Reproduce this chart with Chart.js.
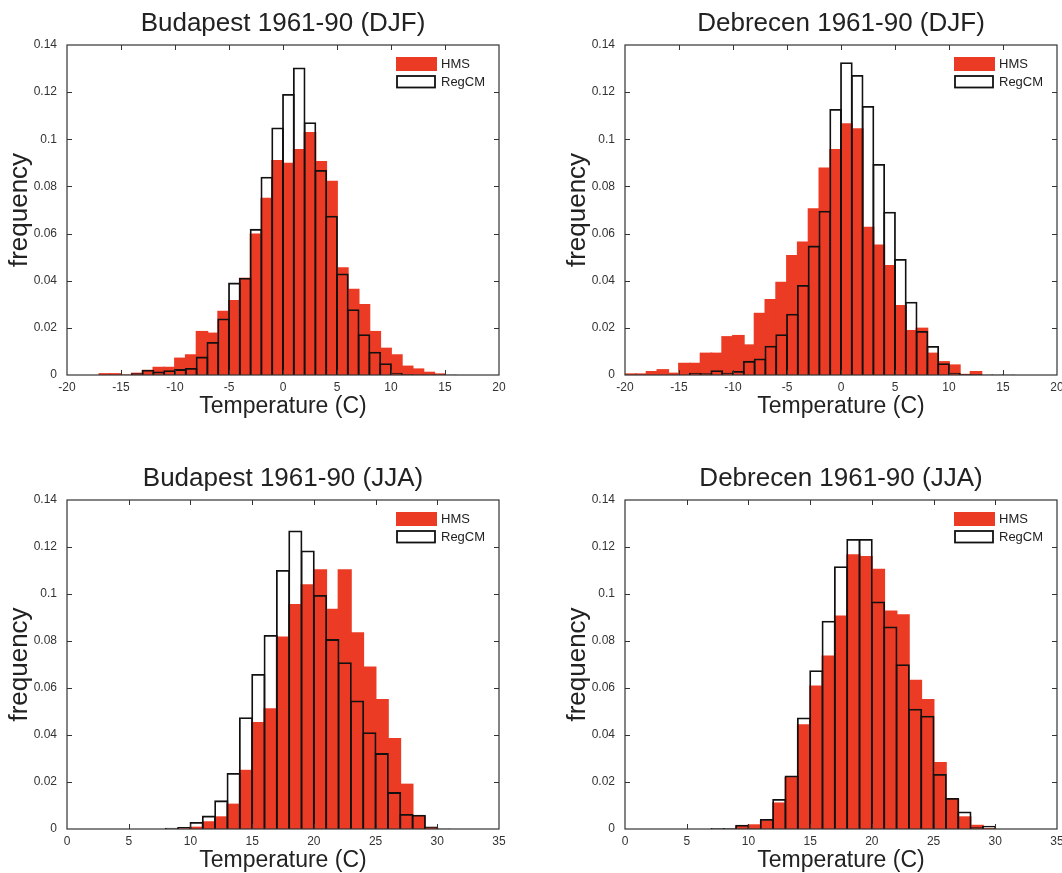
<!DOCTYPE html>
<html>
<head>
<meta charset="utf-8">
<script src="https://cdn.jsdelivr.net/npm/chart.js@4.4.1/dist/chart.umd.min.js"></script>
<style>
 html,body{margin:0;padding:0;background:#fff;overflow:hidden;width:1062px;height:873px}
 canvas{position:absolute}
 #c1{left:0;top:0} #c2{left:558px;top:0} #c3{left:0;top:455px} #c4{left:558px;top:455px}
</style>
</head>
<body>
<canvas id="c1" width="531" height="436"></canvas>
<canvas id="c2" width="531" height="436"></canvas>
<canvas id="c3" width="531" height="418"></canvas>
<canvas id="c4" width="531" height="418"></canvas>
<script>
Chart.defaults.font.family='"Liberation Sans",Arial,sans-serif';
Chart.defaults.color="#222";
const el=id=>document.getElementById(id);

// bin left edges (1 degree bins)
const DJF_EDGES=[-20,-19,-18,-17,-16,-15,-14,-13,-12,-11,-10,-9,-8,-7,-6,-5,-4,-3,-2,-1,
 0,1,2,3,4,5,6,7,8,9,10,11,12,13,14,15,16,17,18,19];
const JJA_EDGES=[0,1,2,3,4,5,6,7,8,9,10,11,12,13,14,15,16,17,18,19,20,21,22,23,24,25,26,27,28,29,30,31,32,33,34];

// Budapest, winter
const BUD_DJF_HMS=[0,0,0,0.0008,0.0008,0.0002,0.001,0.0022,0.0035,0.0035,0.0074,0.0088,0.0187,0.018,0.0273,0.0318,0.0413,0.060,0.0752,0.0912,
 0.090,0.0959,0.1031,0.0908,0.0824,0.0457,0.0366,0.0301,0.0187,0.0116,0.0088,0.004,0.0028,0.0014,0.0007,0,0,0,0,0];
const BUD_DJF_REG=[0,0,0,0,0,0,0.0007,0.0022,0.0015,0.002,0.0025,0.003,0.0078,0.014,0.024,0.0392,0.0413,0.062,0.0841,0.105,
 0.1192,0.1305,0.1072,0.087,0.0676,0.0431,0.0279,0.0173,0.0099,0.005,0.001,0.0003,0.0002,0.0002,0.0002,0.0002,0,0,0,0];
// Debrecen, winter
const DEB_DJF_HMS=[0.0007,0.0007,0.0017,0.0025,0.001,0.0052,0.0052,0.0095,0.0095,0.0165,0.017,0.013,0.0264,0.0322,0.0396,0.0509,0.0566,0.0707,0.088,0.0959,
 0.1068,0.1047,0.0629,0.0554,0.0467,0.0297,0.0191,0.0201,0.0095,0.0059,0.0045,0.0005,0.0017,0,0,0,0,0,0,0];
const DEB_DJF_REG=[0,0,0,0,0,0,0.001,0.0007,0.002,0.001,0.0017,0.006,0.007,0.0124,0.0173,0.026,0.0382,0.0549,0.0697,0.1129,
 0.1327,0.1273,0.1141,0.0895,0.0693,0.0492,0.0311,0.0187,0.0123,0.005,0.001,0.0003,0.0003,0.0002,0.0002,0.0002,0,0,0,0];
// Budapest, summer
const BUD_JJA_HMS=[0,0,0,0,0,0,0,0,0,0.0003,0.001,0.0033,0.0054,0.0108,0.0252,0.0455,0.0514,0.0819,0.0957,0.1042,
 0.1105,0.0937,0.1105,0.0837,0.0692,0.0553,0.0387,0.0193,0.0057,0.0008,0,0,0,0,0];
const BUD_JJA_REG=[0,0,0,0,0,0,0,0,0.0005,0.0008,0.003,0.0057,0.0122,0.0238,0.0476,0.066,0.0826,0.1102,0.127,0.1185,
 0.0996,0.0808,0.071,0.0547,0.0412,0.0323,0.0157,0.0064,0.0061,0.0011,0.0002,0,0,0,0];
// Debrecen, summer
const DEB_JJA_HMS=[0,0,0,0,0,0,0,0,0,0.0014,0.002,0.0037,0.0113,0.0221,0.0446,0.0611,0.0738,0.0908,0.1169,0.1162,
 0.1107,0.093,0.0914,0.0635,0.0553,0.0285,0.0129,0.0054,0.0018,0.0004,0,0,0,0,0];
const DEB_JJA_REG=[0,0,0,0,0,0,0,0.0004,0.0004,0.0018,0.0002,0.0043,0.0128,0.0228,0.0475,0.0676,0.0886,0.1118,0.1234,0.1234,
 0.0968,0.0862,0.0701,0.0512,0.0482,0.0234,0.0132,0.0075,0.0007,0.0014,0,0,0,0,0];

const RED="#ec3b24", EDGE="#111";

// MATLAB-like box: frame, inward ticks on all four sides, legend in the upper right corner
const frame={id:"frame",
 afterDatasetsDraw(chart){
  const {ctx,chartArea:a,scales:{x,y}}=chart;
  ctx.save();
  ctx.strokeStyle="#333"; ctx.lineWidth=1;
  ctx.beginPath();
  x.ticks.forEach(t=>{ if(t.value<=x.min||t.value>=x.max)return; const p=Math.round(x.getPixelForValue(t.value))+.5;
    ctx.moveTo(p,a.bottom); ctx.lineTo(p,a.bottom-5); ctx.moveTo(p,a.top); ctx.lineTo(p,a.top+5); });
  y.ticks.forEach(t=>{ if(t.value<=y.min||t.value>=y.max)return; const p=Math.round(y.getPixelForValue(t.value))+.5;
    ctx.moveTo(a.left,p); ctx.lineTo(a.left+5,p); ctx.moveTo(a.right,p); ctx.lineTo(a.right-5,p); });
  ctx.stroke();
  ctx.lineWidth=1.2; ctx.strokeRect(a.left,a.top,a.right-a.left,a.bottom-a.top);
  const [hms,reg]=chart.data.datasets;
  ctx.fillStyle=hms.backgroundColor; ctx.fillRect(a.right-103,a.top+12,41,14);
  ctx.strokeStyle=reg.borderColor; ctx.lineWidth=1.8; ctx.strokeRect(a.right-102,a.top+31,38,11.5);
  ctx.fillStyle="#222"; ctx.font='13px "Liberation Sans",Arial,sans-serif'; ctx.textBaseline="middle";
  ctx.fillText(hms.label,a.right-58,a.top+19.5); ctx.fillText(reg.label,a.right-58,a.top+37.5);
  ctx.restore();
 }};

function panel(id,title,edges,hms,reg,xmin,xmax,padBottom){
  const pts=v=>v.map((f,i)=>({x:edges[i]+.5,y:f}));
  const pxPerBin=432/(xmax-xmin), wide=1+1.8/pxPerBin;
  new Chart(el(id),{type:"bar",plugins:[frame],
    data:{datasets:[
      {label:"HMS",data:pts(hms),backgroundColor:RED,borderWidth:0,order:2,grouped:false,barPercentage:wide,categoryPercentage:1},
      {label:"RegCM",data:pts(reg),backgroundColor:"rgba(0,0,0,0)",borderColor:EDGE,borderWidth:1.8,order:1,grouped:false,barPercentage:wide,categoryPercentage:1},
    ]},
    options:{responsive:false,animation:false,devicePixelRatio:1,
      layout:{padding:{left:0,top:0,right:32,bottom:padBottom}},
      scales:{
        x:{type:"linear",min:xmin,max:xmax,offset:false,
          grid:{display:false,drawTicks:false},border:{display:false},
          ticks:{stepSize:5,autoSkip:false,maxRotation:0,padding:5,color:"#333",font:{size:12}},
          title:{display:true,text:"Temperature (C)",color:"#222",font:{size:23,lineHeight:1},padding:{top:0,bottom:.5}},
          afterFit:s=>{s.height=44;}},
        y:{min:0,max:0.14,
          grid:{display:false,drawTicks:false},border:{display:false},
          ticks:{stepSize:0.02,padding:10,color:"#333",font:{size:12},callback:v=>String(+v.toFixed(2))},
          title:{display:true,text:"frequency",color:"#222",font:{size:26,lineHeight:1.2},padding:{top:4.4,bottom:0}},
          afterFit:s=>{s.width=67;}}},
      plugins:{legend:{display:false},tooltip:{enabled:false},
        title:{display:true,text:title,color:"#222",fullSize:false,font:{size:26,weight:"normal",lineHeight:1.2},padding:{top:8.4,bottom:5.4}}}}});
}

panel("c1","Budapest 1961-90 (DJF)",DJF_EDGES,BUD_DJF_HMS,BUD_DJF_REG,-20,20,17);
panel("c2","Debrecen 1961-90 (DJF)",DJF_EDGES,DEB_DJF_HMS,DEB_DJF_REG,-20,20,17);
panel("c3","Budapest 1961-90 (JJA)",JJA_EDGES,BUD_JJA_HMS,BUD_JJA_REG,0,35,0);
panel("c4","Debrecen 1961-90 (JJA)",JJA_EDGES,DEB_JJA_HMS,DEB_JJA_REG,0,35,0);
</script>
</body>
</html>
